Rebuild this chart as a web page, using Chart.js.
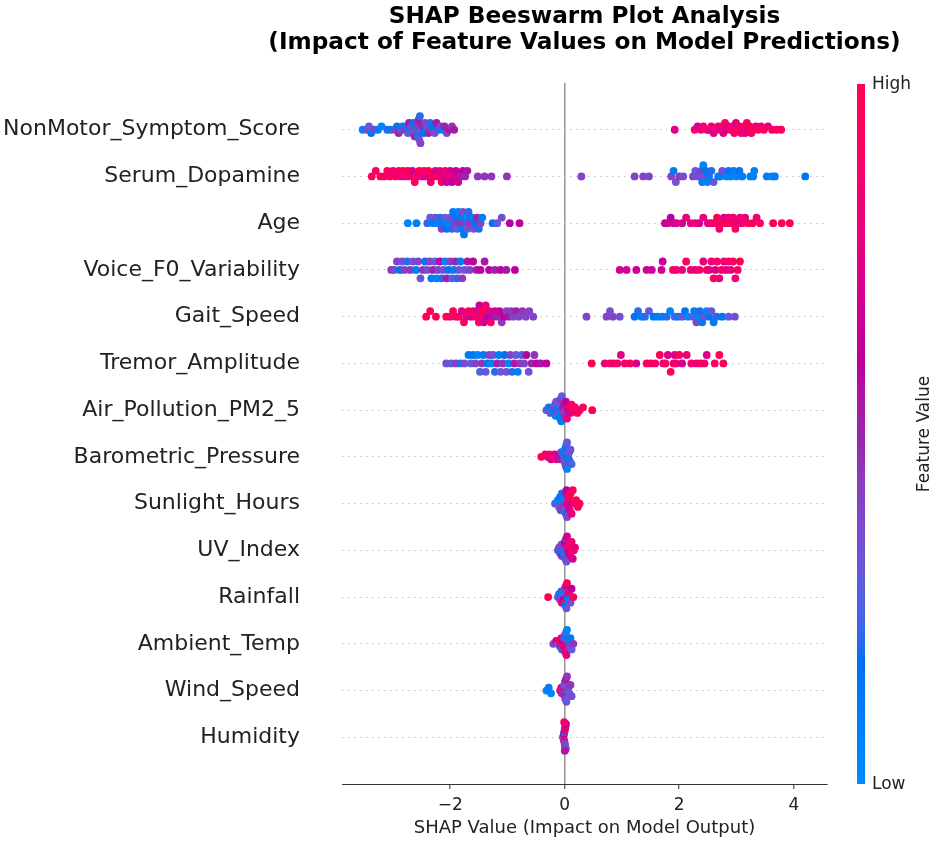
<!DOCTYPE html>
<html><head><meta charset="utf-8">
<script src="https://cdn.jsdelivr.net/npm/chart.js@4.4.1/dist/chart.umd.min.js"></script>
<style>html,body{margin:0;padding:0;background:#fff}</style>
</head><body>
<canvas id="c" width="935" height="846"></canvas>
<script>
// ---------------- data ----------------
const TITLE_LINES = ['SHAP Beeswarm Plot Analysis', '(Impact of Feature Values on Model Predictions)'];
const X_LABEL = 'SHAP Value (Impact on Model Output)';
const CBAR_LABEL = 'Feature Value';
const CBAR_HIGH = 'High';
const CBAR_LOW = 'Low';
const features = ['NonMotor_Symptom_Score','Serum_Dopamine','Age','Voice_F0_Variability','Gait_Speed','Tremor_Amplitude','Air_Pollution_PM2_5','Barometric_Pressure','Sunlight_Hours','UV_Index','Rainfall','Ambient_Temp','Wind_Speed','Humidity'];
const xTicks = [-2, 0, 2, 4];

// each point: [SHAP value, normalised feature value (0 = low, 1 = high)]
const nonMotor = [[-3.53,.05],[-3.46,.35],[-3.42,.30],[-3.38,.15],[-3.33,.40],[-3.26,.10],[-3.20,.05],[-3.10,.20],[-3.04,.10],[-2.97,.40],[-2.93,.15],[-2.90,.50],[-2.86,.35],[-2.83,.10],[-2.80,.45],[-2.77,.20],[-2.74,.30],[-2.72,.55],[-2.70,.10],[-2.68,.40],[-2.66,.35],[-2.64,.15],[-2.62,.50],[-2.60,.30],[-2.59,.20],[-2.58,.40],[-2.57,.45],[-2.56,.10],[-2.55,.55],[-2.54,.35],[-2.53,.20],[-2.52,.40],[-2.50,.30],[-2.48,.50],[-2.46,.15],[-2.44,.40],[-2.42,.10],[-2.40,.35],[-2.38,.50],[-2.35,.20],[-2.32,.40],[-2.30,.15],[-2.27,.35],[-2.24,.55],[-2.20,.20],[-2.17,.40],[-2.13,.10],[-2.10,.50],[-2.06,.40],[-2.02,.55],[-1.97,.45],[-1.93,.55],
[1.92,.75],[2.27,.85],[2.32,.70],[2.38,.90],[2.42,.80],[2.48,.95],[2.52,.70],[2.56,.85],[2.60,.75],[2.64,.90],[2.68,.80],[2.71,.70],[2.74,.85],[2.77,.75],[2.80,.90],[2.83,.70],[2.86,.80],[2.90,.95],[2.93,.85],[2.96,.90],[2.99,.75],[3.02,.95],[3.05,.85],[3.08,.90],[3.10,.80],[3.13,.95],[3.15,.85],[3.18,.90],[3.20,.75],[3.23,1.0],[3.26,.85],[3.30,.95],[3.34,.80],[3.38,.90],[3.43,.85],[3.48,.95],[3.55,.80],[3.62,.90],[3.70,.95],[3.78,.90]];

const serumDopamine = [[-3.37,.95],[-3.30,.90],[-3.22,1.0],[-3.15,.85],[-3.10,.95],[-3.05,.90],[-3.00,.80],[-2.95,1.0],[-2.90,.90],[-2.86,.75],[-2.82,.95],[-2.78,.85],[-2.74,1.0],[-2.70,.90],[-2.66,.70],[-2.62,.95],[-2.58,.85],[-2.54,1.0],[-2.50,.80],[-2.46,.90],[-2.42,.75],[-2.38,.95],[-2.34,.85],[-2.30,1.0],[-2.26,.70],[-2.22,.90],[-2.18,.80],[-2.15,.95],[-2.12,.75],[-2.09,.85],[-2.06,.65],[-2.03,.80],[-2.00,.70],[-1.97,.60],[-1.94,.75],[-1.90,.65],[-1.86,.70],[-1.82,.55],[-1.78,.60],[-1.74,.50],[-1.70,.55],[-1.52,.45],[-1.40,.45],[-1.28,.45],[-1.01,.45],
[0.29,.40],[1.22,.40],[1.37,.40],[1.47,.40],
[1.86,.40],[1.90,.10],[1.94,.35],[2.00,.45],[2.07,.35],[2.24,.40],[2.28,.30],[2.33,.35],[2.38,.40],[2.40,.10],[2.42,.05],[2.44,.35],[2.46,.15],[2.49,.05],[2.52,.10],[2.56,.20],[2.60,.30],[2.68,.05],[2.71,.10],[2.75,.35],[2.82,.05],[2.86,.15],[2.90,.05],[2.95,.10],[3.00,.05],[3.05,.15],[3.10,.10],[3.24,.05],[3.29,.10],[3.31,.05],[3.53,.10],[3.62,.05],[3.67,.10],[4.20,.15]];

const age = [[-2.74,.05],[-2.59,.10],[-2.40,.20],[-2.35,.30],[-2.30,.10],[-2.26,.35],[-2.22,.05],[-2.18,.20],[-2.15,.40],[-2.12,.10],[-2.09,.30],[-2.06,.15],[-2.03,.05],[-2.00,.35],[-1.97,.20],[-1.95,.10],[-1.92,.40],[-1.90,.15],[-1.88,.30],[-1.86,.05],[-1.84,.45],[-1.82,.20],[-1.80,.10],[-1.78,.35],[-1.76,.15],[-1.74,.40],[-1.72,.05],[-1.70,.30],[-1.68,.20],[-1.65,.45],[-1.62,.10],[-1.59,.35],[-1.56,.15],[-1.53,.50],[-1.50,.20],[-1.47,.40],[-1.44,.10],[-1.26,.15],[-1.18,.30],[-1.10,.35],[-0.96,.60],[-0.79,.60],
[1.75,.65],[1.80,.70],[1.85,.60],[1.90,.65],[1.95,.75],[2.05,.70],[2.12,.80],[2.20,.75],[2.28,.90],[2.35,.70],[2.42,.80],[2.50,.75],[2.56,.85],[2.62,.90],[2.66,1.0],[2.70,.85],[2.74,.95],[2.78,.75],[2.82,1.0],[2.86,.80],[2.90,.90],[2.94,.85],[2.98,.95],[3.02,.75],[3.06,.85],[3.10,.95],[3.15,.80],[3.20,.90],[3.28,1.0],[3.35,.85],[3.41,.90],[3.64,1.0],[3.79,.95],[3.93,1.0]];

const voiceF0 = [[-3.03,.45],[-2.98,.35],[-2.93,.40],[-2.88,.15],[-2.84,.35],[-2.80,.40],[-2.75,.20],[-2.70,.45],[-2.65,.35],[-2.60,.10],[-2.56,.40],[-2.52,.30],[-2.48,.45],[-2.44,.15],[-2.40,.35],[-2.36,.40],[-2.33,.10],[-2.30,.50],[-2.27,.30],[-2.24,.05],[-2.21,.40],[-2.18,.60],[-2.15,.20],[-2.12,.35],[-2.09,.05],[-2.06,.55],[-2.03,.15],[-2.00,.40],[-1.97,.30],[-1.94,.10],[-1.91,.50],[-1.88,.20],[-1.85,.35],[-1.82,.10],[-1.79,.45],[-1.75,.30],[-1.70,.55],[-1.66,.40],[-1.60,.60],[-1.54,.55],[-1.47,.60],[-1.40,.55],[-1.32,.60],[-1.22,.50],[-1.12,.60],[-1.02,.55],[-0.87,.60],
[0.96,.70],[1.08,.70],[1.25,.65],[1.43,.70],[1.52,.65],[1.69,.70],[1.71,.65],[1.89,.90],[1.95,.85],[2.05,.80],[2.12,.95],[2.20,.85],[2.28,.75],[2.35,.90],[2.42,.80],[2.48,.95],[2.52,.75],[2.56,.85],[2.60,1.0],[2.63,.70],[2.66,.90],[2.70,.80],[2.74,.95],[2.78,.85],[2.82,.75],[2.86,.90],[2.90,.80],[2.94,.95],[2.98,.85],[3.02,.90],[3.06,1.0]];

const gaitSpeed = [[-2.42,1.0],[-2.35,.95],[-2.25,1.0],[-2.07,.95],[-2.00,.90],[-1.95,1.0],[-1.90,.85],[-1.85,.95],[-1.80,.75],[-1.76,.90],[-1.72,.80],[-1.68,1.0],[-1.64,.70],[-1.60,.85],[-1.56,.95],[-1.53,.75],[-1.50,.90],[-1.49,.65],[-1.47,.80],[-1.44,1.0],[-1.41,.70],[-1.38,.85],[-1.35,.60],[-1.32,.75],[-1.29,.95],[-1.26,.55],[-1.22,.70],[-1.18,.50],[-1.14,.65],[-1.10,.45],[-1.06,.60],[-1.02,.40],[-0.98,.55],[-0.94,.45],[-0.90,.40],[-0.85,.50],[-0.80,.40],[-0.74,.45],[-0.68,.40],[-0.62,.40],[-0.55,.40],
[0.38,.40],[0.73,.40],[0.79,.35],[0.84,.40],[0.96,.35],[1.22,.15],[1.28,.20],[1.34,.10],[1.40,.20],[1.47,.30],[1.55,.15],[1.62,.10],[1.70,.10],[1.78,.20],[1.84,.05],[1.92,.25],[1.98,.10],[2.05,.35],[2.10,.15],[2.15,.05],[2.24,.30],[2.26,.10],[2.30,.40],[2.33,.05],[2.36,.20],[2.40,.10],[2.44,.35],[2.48,.05],[2.52,.15],[2.56,.30],[2.60,.10],[2.65,.20],[2.75,.15],[2.86,.30],[2.97,.35]];

const tremorAmp = [[-2.07,.35],[-1.98,.30],[-1.90,.40],[-1.82,.20],[-1.75,.35],[-1.68,.10],[-1.64,.30],[-1.60,.15],[-1.56,.40],[-1.52,.05],[-1.48,.25],[-1.45,.45],[-1.42,.10],[-1.38,.30],[-1.35,.15],[-1.32,.40],[-1.28,.05],[-1.25,.35],[-1.22,.20],[-1.18,.50],[-1.15,.10],[-1.12,.30],[-1.08,.45],[-1.05,.15],[-1.02,.35],[-0.98,.05],[-0.95,.40],[-0.92,.20],[-0.88,.55],[-0.85,.30],[-0.82,.10],[-0.78,.45],[-0.75,.25],[-0.71,.40],[-0.67,.60],[-0.63,.35],[-0.58,.50],[-0.53,.45],[-0.49,.60],[-0.42,.55],[-0.32,.60],
[0.47,1.0],[0.70,.80],[0.79,.95],[0.85,.85],[0.92,.90],[0.98,.75],[1.05,.85],[1.14,.95],[1.25,.70],[1.43,.90],[1.50,1.0],[1.58,.85],[1.66,.95],[1.72,.80],[1.76,.95],[1.80,.70],[1.85,1.0],[1.90,.85],[1.92,.75],[1.95,.90],[2.00,.95],[2.05,.70],[2.13,.85],[2.21,.90],[2.30,.80],[2.37,.95],[2.44,.85],[2.48,.75],[2.62,.90],[2.70,1.0],[2.77,.95]];

const airPollution = [[-0.32,.30],[-0.28,.10],[-0.25,.35],[-0.22,.05],[-0.20,.40],[-0.18,.15],[-0.17,.30],[-0.16,.05],[-0.15,.35],[-0.14,.20],[-0.13,.10],[-0.12,.40],[-0.11,.25],[-0.10,.05],[-0.09,.35],[-0.08,.15],[-0.07,.45],[-0.06,.10],[-0.05,.30],[-0.04,.20],[-0.03,.50],[-0.02,.40],[-0.01,.55],[0.00,.45],[0.02,.60],[0.04,.80],[0.06,.70],[0.08,.90],[0.10,.75],[0.12,.95],[0.15,.85],[0.18,.90],[0.22,1.0],[0.26,.85],[0.32,.95],[0.48,1.0]];

const barometric = [[-0.41,1.0],[-0.34,.90],[-0.30,.80],[-0.27,.95],[-0.24,.70],[-0.21,.85],[-0.18,.75],[-0.15,.90],[-0.12,.60],[-0.10,.70],[-0.08,.50],[-0.06,.35],[-0.04,.60],[-0.03,.20],[-0.02,.40],[-0.01,.10],[0.00,.30],[0.00,.05],[0.01,.35],[0.02,.15],[0.02,.40],[0.03,.20],[0.04,.05],[0.04,.30],[0.05,.15],[0.06,.40],[0.07,.10],[0.08,.30],[0.09,.20],[0.10,.35],[0.12,.25]];

const sunlight = [[-0.17,.20],[-0.14,.35],[-0.12,.05],[-0.10,.30],[-0.08,.15],[-0.07,.40],[-0.05,.10],[-0.04,.35],[-0.03,.20],[-0.02,.45],[-0.01,.05],[0.00,.30],[0.01,.50],[0.02,.15],[0.03,.60],[0.04,.40],[0.05,.70],[0.06,.85],[0.07,.65],[0.08,.90],[0.09,.75],[0.10,1.0],[0.12,.80],[0.14,.95],[0.17,.85],[0.20,1.0],[0.23,.90],[0.26,1.0]];

const uvIndex = [[-0.12,.30],[-0.10,.40],[-0.08,.15],[-0.06,.35],[-0.05,.50],[-0.04,.20],[-0.03,.40],[-0.02,.10],[-0.01,.45],[0.00,.30],[0.00,.60],[0.01,.20],[0.02,.50],[0.03,.35],[0.04,.70],[0.05,.55],[0.06,.80],[0.07,.65],[0.08,.90],[0.10,.75],[0.12,.85],[0.14,.70],[0.16,.95],[0.18,.80]];

const rainfall = [[-0.29,1.0],[-0.12,.30],[-0.10,.10],[-0.08,.45],[-0.06,.20],[-0.05,.80],[-0.04,.35],[-0.03,.05],[-0.02,.60],[-0.01,.25],[0.00,.90],[0.00,.40],[0.01,.15],[0.02,.70],[0.03,.30],[0.04,.95],[0.05,.20],[0.06,.50],[0.07,.10],[0.08,.85],[0.10,.35],[0.12,.60],[0.15,.90]];

const ambientTemp = [[-0.20,.40],[-0.15,.70],[-0.12,.30],[-0.10,.90],[-0.08,.50],[-0.06,.80],[-0.05,.20],[-0.04,.95],[-0.03,.60],[-0.02,.85],[-0.01,.40],[0.00,.70],[0.00,.10],[0.01,.90],[0.02,.30],[0.03,.75],[0.04,.05],[0.05,.55],[0.06,.20],[0.08,.40],[0.10,.10],[0.12,.30],[0.15,.45]];

const windSpeed = [[-0.32,.05],[-0.28,.10],[-0.24,.05],[-0.08,.70],[-0.06,.90],[-0.05,.60],[-0.04,.40],[-0.03,.80],[-0.02,.45],[-0.01,.30],[0.00,.50],[0.00,.35],[0.01,.40],[0.02,.55],[0.03,.30],[0.04,.45],[0.05,.35],[0.06,.40],[0.08,.30],[0.10,.45],[0.12,.35]];

const humidity = [[-0.03,.40],[-0.02,.90],[-0.02,.30],[-0.015,.60],[-0.01,.95],[-0.01,.20],[-0.005,.50],[0.00,.80],[0.00,.35],[0.00,1.0],[0.005,.45],[0.01,.70],[0.01,.25],[0.015,.90],[0.02,.40],[0.02,.60],[0.00,.55],[-0.01,.85]];

const rows = [nonMotor, serumDopamine, age, voiceF0, gaitSpeed, tremorAmp, airPollution, barometric, sunlight, uvIndex, rainfall, ambientTemp, windSpeed, humidity];

// ---------------- helpers ----------------
// SHAP red_blue colormap (LCH interpolation)
function lch2rgb(L, C, H) {
  const a = C * Math.cos(H), b = C * Math.sin(H);
  const fy = (L + 16) / 116, fx = fy + a / 500, fz = fy - b / 200;
  const inv = f => (f > 0.206897 ? f * f * f : (f - 16 / 116) / 7.787);
  const X = 0.95047 * inv(fx), Y = inv(fy), Z = 1.08883 * inv(fz);
  let r = 3.2406 * X - 1.5372 * Y - 0.4986 * Z;
  let g = -0.9689 * X + 1.8758 * Y + 0.0415 * Z;
  let bb = 0.0557 * X - 0.2040 * Y + 1.0570 * Z;
  const gam = v => { v = v <= 0.0031308 ? 12.92 * v : 1.055 * Math.pow(v, 1 / 2.4) - 0.055; return Math.round(Math.min(1, Math.max(0, v)) * 255); };
  return [gam(r), gam(g), gam(bb)];
}
function cmap(t) {
  t = Math.min(1, Math.max(0, t));
  const L = t < 0.5 ? 54 + (40 - 54) * (t / 0.5) : 40 + (54 - 40) * ((t - 0.5) / 0.5);
  const C = 70 + 20 * t;
  const H = 4.6588 + (0.35470565 + 2 * Math.PI - 4.6588) * t;
  const c = lch2rgb(L, C, H);
  return `rgb(${c[0]},${c[1]},${c[2]})`;
}
// SHAP-style beeswarm vertical offsets (layout only)
function swarm(xs, binW) {
  const q = xs.map(x => Math.round(x / binW));
  const idx = xs.map((_, i) => i).sort((a, b) => q[a] - q[b] || a - b);
  const ys = new Array(xs.length).fill(0);
  let layer = 0, last = null;
  for (const i of idx) {
    if (q[i] !== last) layer = 0;
    ys[i] = Math.ceil(layer / 2) * ((layer % 2) * 2 - 1);
    layer++; last = q[i];
  }
  const m = Math.max(...ys.map(y => y + 1));
  return ys.map(y => y * 0.9 * 0.4 / m);
}

const datasets = rows.map((pts, r) => {
  const yIdx = features.length - 1 - r;
  const off = swarm(pts.map(p => p[0]), 0.095);
  return {
    label: features[r],
    data: pts.map((p, i) => ({ x: p[0], y: yIdx + off[i] })),
    pointBackgroundColor: pts.map(p => cmap(p[1])),
    pointBorderWidth: 0,
    pointRadius: 3.9,
    showLine: false
  };
});

const titleAndColorbar = {
  id: 'titleAndColorbar',
  afterDraw(chart) {
    const { ctx, chartArea: a } = chart;
    ctx.save();
    // title, centred over the plot area
    ctx.fillStyle = '#000';
    ctx.font = 'bold 23.2px "DejaVu Sans"';
    ctx.textAlign = 'center';
    ctx.textBaseline = 'middle';
    const cx = (a.left + a.right) / 2;
    TITLE_LINES.forEach((t, i) => ctx.fillText(t, cx, 17 + i * 26));
    // colour bar
    const x = a.right + 30, w = 8, top = a.top + 1, bot = a.bottom;
    const grad = ctx.createLinearGradient(0, bot, 0, top);
    for (let i = 0; i <= 40; i++) grad.addColorStop(i / 40, cmap(i / 40));
    ctx.fillStyle = grad;
    ctx.fillRect(x, top, w, bot - top);
    ctx.fillStyle = '#222';
    ctx.font = '17px "DejaVu Sans"';
    ctx.textAlign = 'left';
    ctx.fillText(CBAR_HIGH, x + w + 7, top + 1);
    ctx.fillText(CBAR_LOW, x + w + 7, bot + 1);
    ctx.translate(x + 68, (top + bot) / 2);
    ctx.rotate(-Math.PI / 2);
    ctx.textAlign = 'center';
    ctx.fillText(CBAR_LABEL, 0, 0);
    ctx.restore();
  }
};

Chart.defaults.font.family = '"DejaVu Sans", sans-serif';
new Chart(document.getElementById('c'), {
  type: 'scatter',
  data: { datasets },
  options: {
    responsive: false,
    animation: false,
    events: [],
    layout: { padding: { left: 0, right: 108, bottom: 0, top: 83 } },
    plugins: {
      legend: { display: false },
      tooltip: { enabled: false },
      title: { display: false }
    },
    scales: {
      x: {
        type: 'linear', min: -3.89, max: 4.58,
        afterBuildTicks: s => { s.ticks = xTicks.map(v => ({ value: v })); },
        afterFit: s => { s.height = 62; },
        ticks: {
          color: '#222', font: { size: 17 }, padding: 6,
          callback: v => String(v).replace('-', '\u2212')
        },
        grid: {
          color: c => (c.tick && c.tick.value === 0 ? '#999' : 'rgba(0,0,0,0)'),
          lineWidth: 1.6, tickColor: '#333', tickLength: 5, tickWidth: 1
        },
        border: { display: true, color: '#333', width: 1 },
        title: { display: true, text: X_LABEL, color: '#222', font: { size: 18 }, padding: { top: 0, bottom: 7 } }
      },
      y: {
        type: 'linear', min: -1, max: 14,
        afterBuildTicks: s => { s.ticks = features.map((_, i) => ({ value: i })); },
        afterFit: s => { s.width = 342; },
        ticks: {
          color: '#222', font: { size: 22 }, padding: 42,
          callback: v => features[features.length - 1 - v]
        },
        grid: { color: '#c4c4c4', lineWidth: 1, drawTicks: false },
        border: { display: false, dash: [1.5, 4.5] }
      }
    }
  },
  plugins: [titleAndColorbar]
});
</script>
</body></html>
